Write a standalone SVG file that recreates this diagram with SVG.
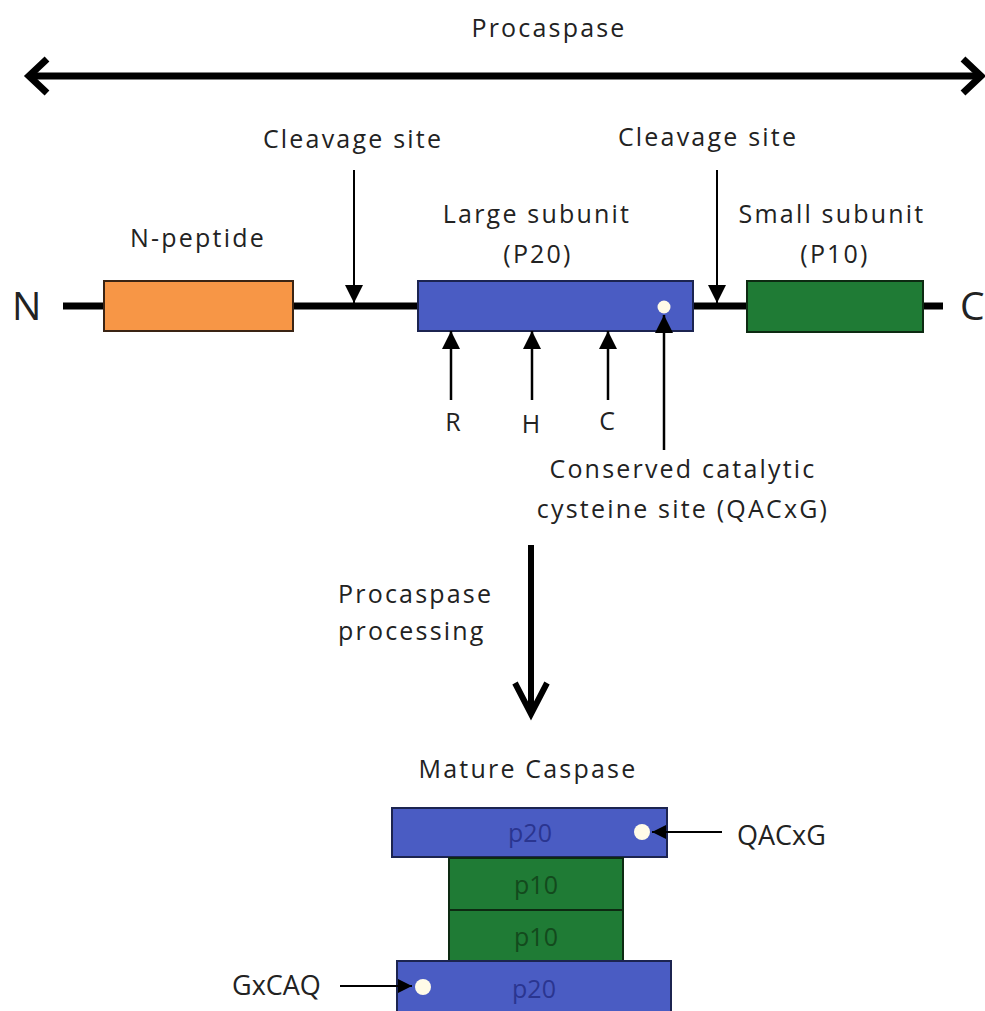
<svg xmlns="http://www.w3.org/2000/svg" width="985" height="1011" viewBox="0 0 985 1011">
<defs>
<style>
.t{font-family:"Open Sans","Noto Sans",sans-serif;font-size:25px;fill:#222;letter-spacing:2.2px}
.m{text-anchor:middle}
.big{font-size:39px;letter-spacing:0}
.ln{stroke:#000;fill:none}
.blue{fill:#4a5cc3;stroke:#1c2450;stroke-width:2}
.green{fill:#1f7b35;stroke:#0d2a12;stroke-width:2}
.orange{fill:#f79646;stroke:#3a2414;stroke-width:2}
.dot{fill:#fffbe8}
</style>
<marker id="tri" viewBox="0 0 10 10" refX="10" refY="5" markerWidth="18" markerHeight="18" markerUnits="userSpaceOnUse" orient="auto">
<path d="M0,0 L10,5 L0,10 z" fill="#000"/>
</marker>
<marker id="tris" viewBox="0 0 10 10" refX="10" refY="5" markerWidth="14" markerHeight="14" markerUnits="userSpaceOnUse" orient="auto">
<path d="M0,0 L10,5 L0,10 z" fill="#000"/>
</marker>
</defs>
<rect width="985" height="1011" fill="#fff"/>

<g id="procaspase-span">
<text class="t m" x="549" y="37">Procaspase</text>
<line class="ln" x1="30" y1="76" x2="980" y2="76" stroke-width="7"/>
<polyline class="ln" points="47,59 29,76 47,93" stroke-width="7" stroke-linejoin="miter"/>
<polyline class="ln" points="963,59 981,76 963,93" stroke-width="7" stroke-linejoin="miter"/>
</g>

<g id="backbone">
<line class="ln" x1="63" y1="306" x2="943" y2="306" stroke-width="7"/>
<text class="t big" x="12" y="320">N</text>
<text class="t big" x="960" y="320">C</text>
</g>

<g id="n-peptide">
<rect class="orange" x="104" y="281" width="189" height="50"/>
<text class="t m" x="198" y="247">N-peptide</text>
</g>

<g id="large-subunit">
<rect class="blue" x="418" y="281" width="275" height="50"/>
<circle class="dot" cx="664" cy="307" r="6.5"/>
<text class="t m" x="537" y="223">Large subunit</text>
<text class="t m" x="538" y="263">(P20)</text>
</g>

<g id="small-subunit">
<rect class="green" x="747" y="281" width="176" height="51"/>
<text class="t m" x="832" y="223">Small subunit</text>
<text class="t m" x="835" y="263">(P10)</text>
</g>

<g id="cleavage-1">
<text class="t m" x="353" y="148">Cleavage site</text>
</g>
<g id="cleavage-2">
<text class="t m" x="708" y="146">Cleavage site</text>
</g>

<g id="residues">
<text class="t m" x="453" y="431" style="letter-spacing:0">R</text>
<text class="t m" x="531" y="433" style="letter-spacing:0">H</text>
<text class="t m" x="607" y="430" style="letter-spacing:0">C</text>
<text class="t m" x="683" y="478">Conserved catalytic</text>
<text class="t m" x="683" y="518">cysteine site (QACxG)</text>
</g>

<g id="processing">
<text class="t" x="338" y="603">Procaspase</text>
<text class="t" x="338" y="640">processing</text>
</g>

<g id="mature-caspase">
<text class="t m" x="528" y="778">Mature Caspase</text>
<rect class="blue" x="392" y="808" width="275" height="49"/>
<rect class="green" x="449" y="858" width="174" height="52"/>
<rect class="green" x="449" y="910" width="174" height="51"/>
<rect class="blue" x="397" y="961" width="274" height="52"/>
<text class="t m" x="530" y="842" style="fill:#2a3590;letter-spacing:0">p20</text>
<text class="t m" x="536" y="894" style="fill:#134a1d;letter-spacing:0">p10</text>
<text class="t m" x="536" y="946" style="fill:#134a1d;letter-spacing:0">p10</text>
<text class="t m" x="534" y="998" style="fill:#2a3590;letter-spacing:0">p20</text>
<circle class="dot" cx="642" cy="832" r="8"/>
<circle class="dot" cx="423" cy="987" r="8"/>
<text class="t" x="737" y="845" style="font-size:27px;letter-spacing:0">QACxG</text>
<text class="t" x="232" y="995" style="font-size:27px;letter-spacing:0">GxCAQ</text>
</g>

<g id="connectors">
<line class="ln" x1="354" y1="170" x2="354" y2="303" stroke-width="2" marker-end="url(#tri)"/>
<line class="ln" x1="717" y1="170" x2="717" y2="303" stroke-width="2" marker-end="url(#tri)"/>
<line class="ln" x1="451" y1="400" x2="451" y2="331" stroke-width="2.5" marker-end="url(#tri)"/>
<line class="ln" x1="532" y1="400" x2="532" y2="331" stroke-width="2.5" marker-end="url(#tri)"/>
<line class="ln" x1="608" y1="400" x2="608" y2="331" stroke-width="2.5" marker-end="url(#tri)"/>
<line class="ln" x1="664" y1="450" x2="664" y2="315" stroke-width="2.5" marker-end="url(#tri)"/>
<line class="ln" x1="531" y1="545" x2="531" y2="714" stroke-width="6"/>
<polyline class="ln" points="515,683 531,714 547,683" stroke-width="6"/>
<line class="ln" x1="722" y1="832" x2="652" y2="832" stroke-width="2" marker-end="url(#tris)"/>
<line class="ln" x1="340" y1="986" x2="412" y2="986" stroke-width="2" marker-end="url(#tris)"/>
</g>
</svg>
